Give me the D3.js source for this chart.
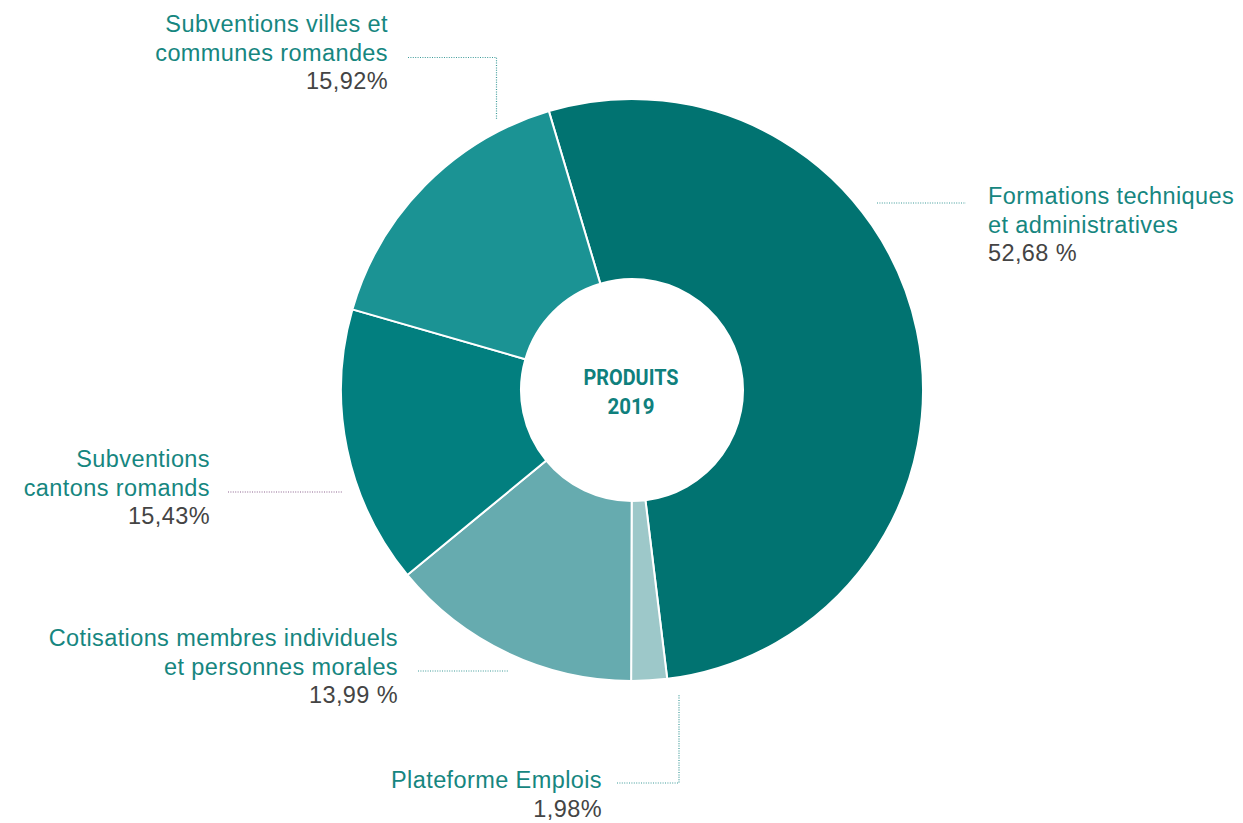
<!DOCTYPE html>
<html>
<head>
<meta charset="utf-8">
<script src="https://cdn.jsdelivr.net/npm/d3@7"></script>
<style>
  body { margin: 0; background: #fff; }
  svg { display: block; }
</style>
</head>
<body>
<div id="chart"></div>
<script>
// data
const categories = ["Formations techniques et administratives", "Plateforme Emplois",
    "Cotisations membres individuels et personnes morales", "Subventions cantons romands",
    "Subventions villes et communes romandes"];
const shares = [52.68, 1.98, 13.99, 15.43, 15.92];
const shareLabels = ["52,68 %", "1,98%", "13,99 %", "15,43%", "15,92%"];
const labelLines = [
    ["Formations techniques", "et administratives"],
    ["Plateforme Emplois"],
    ["Cotisations membres individuels", "et personnes morales"],
    ["Subventions", "cantons romands"],
    ["Subventions villes et", "communes romandes"]
];
const centerTitle = ["PRODUITS", "2019"];

// styling / layout
const colors = ["#017371", "#9dc8c9", "#66abaf", "#027f7f", "#1b9394"];
const width = 1243, height = 823;
const cx = 632, cy = 390, outerR = 291, innerR = 111;
const startDeg = -16.6;
const lineH = 28.6;

// annotation layout: text anchor point + leader path (page coords)
const labelLayout = [
    {x: 988, y: 204, anchor: "start", leader: [[877, 203], [966, 203]], lc: "#3f9c9a"},
    {x: 602, y: 788, anchor: "end", leader: [[617, 783], [679, 783], [679, 695]], lc: "#3f9c9a"},
    {x: 398, y: 646, anchor: "end", leader: [[418, 671], [508, 671]], lc: "#3f9c9a"},
    {x: 210, y: 467, anchor: "end", leader: [[228, 492], [342, 492]], lc: "#8d6590"},
    {x: 388, y: 32, anchor: "end", leader: [[408, 57.5], [496.5, 57.5], [496.5, 119]], lc: "#3f9c9a"}
];

const svg = d3.select("#chart").append("svg")
    .attr("width", width)
    .attr("height", height);

const data = categories.map((c, i) => ({name: c, value: shares[i], idx: i}));

const pie = d3.pie()
    .value(d => d.value)
    .sort(null)
    .startAngle(startDeg * Math.PI / 180)
    .endAngle((startDeg + 360) * Math.PI / 180);

const arc = d3.arc().innerRadius(innerR).outerRadius(outerR);

const g = svg.append("g").attr("transform", `translate(${cx},${cy})`);

g.selectAll("path.slice")
    .data(pie(data))
    .join("path")
    .attr("class", "slice")
    .attr("d", arc)
    .attr("fill", d => colors[d.data.idx])
    .attr("stroke", "#fff")
    .attr("stroke-width", 2);

// center title
g.selectAll("text.center")
    .data(centerTitle)
    .join("text")
    .attr("class", "center")
    .attr("x", -1)
    .attr("y", (d, i) => -5 + i * 29)
    .attr("text-anchor", "middle")
    .attr("font-family", "Roboto, 'Liberation Sans', sans-serif")
    .attr("font-weight", "bold")
    .attr("font-size", 22.5)
    .attr("fill", "#0f807d")
    .attr("textLength", (d, i) => i === 0 ? 95 : 47)
    .attr("lengthAdjust", "spacingAndGlyphs")
    .text(d => d);

// leader lines
const line = d3.line();
svg.selectAll("path.leader")
    .data(labelLayout)
    .join("path")
    .attr("class", "leader")
    .attr("d", d => line(d.leader))
    .attr("fill", "none")
    .attr("stroke", d => d.lc)
    .attr("stroke-width", 1.2)
    .attr("stroke-dasharray", "1,1.4");

// labels
const labels = svg.selectAll("text.label")
    .data(data)
    .join("text")
    .attr("class", "label")
    .attr("font-family", "'Liberation Sans', Arial, sans-serif")
    .attr("font-size", 23.5)
    .attr("letter-spacing", 0.4)
    .attr("text-anchor", d => labelLayout[d.idx].anchor);

labels.each(function (d) {
    const t = d3.select(this);
    const lay = labelLayout[d.idx];
    const lines = labelLines[d.idx];
    lines.forEach((s, j) => {
        t.append("tspan")
            .attr("x", lay.x)
            .attr("y", lay.y + j * lineH)
            .attr("fill", "#16867f")
            .text(s);
    });
    t.append("tspan")
        .attr("x", lay.x)
        .attr("y", lay.y + lines.length * lineH)
        .attr("fill", "#444")
        .text(shareLabels[d.idx]);
});
</script>
</body>
</html>
